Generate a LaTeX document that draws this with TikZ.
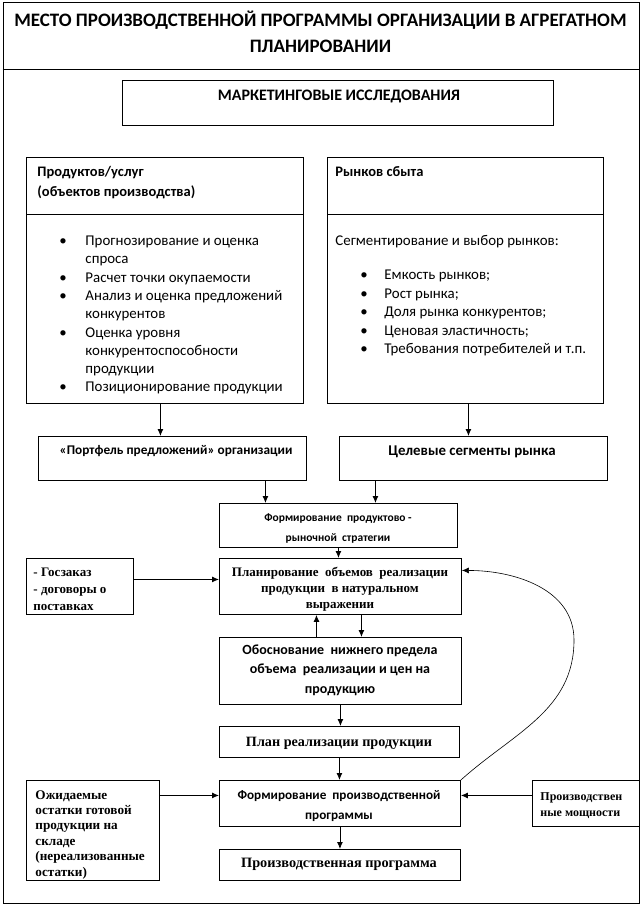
\documentclass[tikz,border=0pt]{standalone}
\usepackage{fontspec}
\setmainfont{Carlito}
\newfontfamily\serf{Liberation Serif}
\usetikzlibrary{arrows.meta}
\newcommand\rows[2]{\begin{tabular}[t]{@{}#1@{}}#2\end{tabular}}
\newcommand\fs[2]{\fontsize{#1}{#2}\selectfont}
\begin{document}
\begin{tikzpicture}[x=1pt,y=-1pt,line width=0.9pt,
  box/.style={draw,inner sep=0pt,anchor=north west},
  arr/.style={-{Latex[length=7pt,width=6pt]}},
  tl/.style={inner sep=0pt,anchor=base west},
  tc/.style={inner sep=0pt,anchor=base}]
\useasboundingbox (0,0) rectangle (642,904);
% frame and title
\node[box,minimum width=636pt,minimum height=900.5pt] (frame) at (2.5,2) {};
\draw (2.5,69) -- (638.5,69);
\node[tc,font=\fs{19}{26}\bfseries] (title) at (320.5,27) {\rows{c}{МЕСТО ПРОИЗВОДСТВЕННОЙ ПРОГРАММЫ ОРГАНИЗАЦИИ В АГРЕГАТНОМ\\ПЛАНИРОВАНИИ}};
% marketing
\node[box,minimum width=431pt,minimum height=45pt] (mkt) at (122,80) {};
\node[tc,font=\fs{16}{18}\bfseries] (mktt) at (339,101) {МАРКЕТИНГОВЫЕ ИССЛЕДОВАНИЯ};
% left big box
\node[box,minimum width=277pt,minimum height=246pt] (lbox) at (26,157) {};
\draw ([yshift=-57pt]lbox.north west) -- ([yshift=-57pt]lbox.north east);
\node[tl,font=\fs{14.5}{20}\bfseries] (ltitle) at (37,177) {\rows{l}{Продуктов/услуг\\(объектов производства)}};
\node[tl,font=\fs{14.9}{18.3}] (llist) at (59,245.5) {\rows{p{26pt}@{}l}{\textbullet & Прогнозирование и оценка\\ & спроса\\ \textbullet & Расчет точки окупаемости\\ \textbullet & Анализ и оценка предложений\\ & конкурентов\\ \textbullet & Оценка уровня\\ & конкурентоспособности\\ & продукции\\ \textbullet & Позиционирование продукции}};
% right big box
\node[box,minimum width=276pt,minimum height=246pt] (rbox) at (327,157) {};
\draw ([yshift=-57pt]rbox.north west) -- ([yshift=-57pt]rbox.north east);
\node[tl,font=\fs{14.5}{20}\bfseries] (rtitle) at (335,177) {Рынков сбыта};
\node[tl,font=\fs{14.9}{18}] (rseg) at (335,245.5) {Сегментирование и выбор рынков:};
\node[tl,font=\fs{14.9}{18.5}] (rlist) at (360,279.5) {\rows{p{24pt}@{}l}{\textbullet & Емкость рынков;\\ \textbullet & Рост рынка;\\ \textbullet & Доля рынка конкурентов;\\ \textbullet & Ценовая эластичность;\\ \textbullet & Требования потребителей и т.п.}};
% second row
\node[box,minimum width=268pt,minimum height=44pt] (port) at (38,436) {};
\node[tc,font=\fs{13.3}{14}\bfseries] (portt) at (176,454) {«Портфель предложений» организации};
\node[box,minimum width=268pt,minimum height=44pt] (targ) at (339,436) {};
\node[tc,font=\fs{14.9}{16}\bfseries] (targt) at (472,455) {Целевые сегменты рынка};
% strategy
\node[box,minimum width=238pt,minimum height=44pt] (strat) at (219,503) {};
\node[tc,font=\fs{11.5}{20}\bfseries] (stratt) at (338,521) {\rows{c}{Формирование\ \ продуктово -\\рыночной\ \ стратегии}};
% planning
\node[box,minimum width=242pt,minimum height=56pt] (plan1) at (219,558) {};
\node[tc,font=\serf\fs{13}{16}\bfseries] (plan1t) at (340,576) {\rows{c}{Планирование\ \ объемов\ \ реализации\\продукции\ \ в\ натуральном\\выражении}};
\node[box,minimum width=107pt,minimum height=56pt] (gos) at (26,558) {};
\node[tl,font=\serf\fs{13}{17}\bfseries] (gost) at (33,576) {\rows{l}{- Госзаказ\\- договоры о\\поставках}};
% justification
\node[box,minimum width=242pt,minimum height=67pt] (just) at (219,637) {};
\node[tc,font=\fs{14}{19.5}\bfseries] (justt) at (340,654) {\rows{c}{Обоснование\ \ нижнего предела\\объема\ \ реализации и цен на\\продукцию}};
% sales plan
\node[box,minimum width=240pt,minimum height=31pt] (plan) at (219,726) {};
\node[tc,font=\serf\fs{14.2}{16}\bfseries] (plant) at (339,746) {План реализации продукции};
% formation
\node[box,minimum width=241pt,minimum height=46pt] (form) at (219,780) {};
\node[tc,font=\fs{13.2}{20}\bfseries] (formt) at (339,799) {\rows{c}{Формирование\ \ производственной\\программы}};
\node[box,minimum width=241pt,minimum height=31pt] (final) at (219,849) {};
\node[tc,font=\serf\fs{14.3}{16}\bfseries] (finalt) at (339,867.5) {Производственная программа};
\node[box,minimum width=133pt,minimum height=100pt] (ozh) at (26,780) {};
\node[tl,font=\serf\fs{13.2}{15.4}\bfseries] (ozht) at (35,799) {\rows{l}{Ожидаемые\\остатки готовой\\продукции на\\складе\\(нереализованные\\остатки)}};
\node[box,minimum width=106.5pt,minimum height=46pt] (cap) at (532,780) {};
\node[tl,font=\serf\fs{12}{16}\bfseries] (capt) at (540,800) {\rows{l}{Производствен\\ные мощности}};
% connectors
\draw[arr] ([xshift=-4.5pt]lbox.south) -- ([xshift=-4.5pt]lbox.south |- port.north);
\draw[arr] ([xshift=3pt]rbox.south) -- ([xshift=3pt]rbox.south |- targ.north);
\draw[arr] ([xshift=93pt]port.south) -- ([xshift=93pt]port.south |- strat.north);
\draw[arr] ([xshift=-98pt]targ.south) -- ([xshift=-98pt]targ.south |- strat.north);
\draw[arr] (strat.south) -- (strat.south |- plan1.north);
\draw[arr] ([xshift=-24pt]just.north) -- ([xshift=-24pt]just.north |- plan1.south);
\draw[arr] ([xshift=21pt]plan1.south) -- ([xshift=21pt]plan1.south |- just.north);
\draw[arr] ([yshift=7pt]gos.east) -- ([yshift=7pt]gos.east -| plan1.west);
\draw[arr] (just.south) -- (just.south |- plan.north);
\draw[arr] (plan.south) -- (plan.south |- form.north);
\draw[arr] (form.south) -- (form.south |- final.north);
\draw[arr] ([yshift=35pt]ozh.east) -- ([yshift=35pt]ozh.east -| form.west);
\draw[arr] ([yshift=8pt]cap.west) -- ([yshift=8pt]cap.west -| form.east);
\coordinate (bend) at (574,640);
\draw[arr,line width=0.6pt] (form.north east) to[out=42,in=-90] (bend) to[out=90,in=0] ([yshift=16pt]plan1.east);
\end{tikzpicture}
\end{document}
